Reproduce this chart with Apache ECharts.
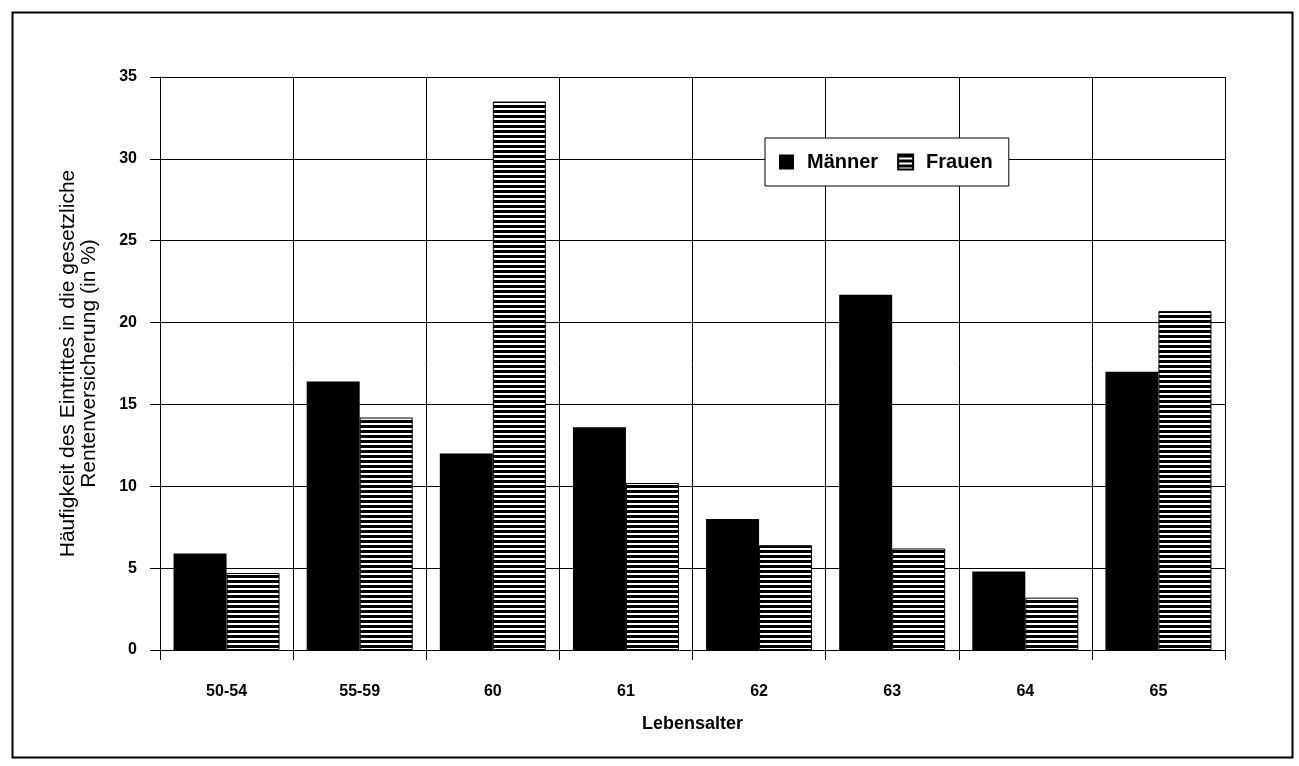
<!DOCTYPE html>
<html>
<head>
<meta charset="utf-8">
<script src="https://cdn.jsdelivr.net/npm/echarts@6/dist/echarts.min.js"></script>
<style>
html,body{margin:0;padding:0;background:#fff;}
#chart{width:1299px;height:766px;}
</style>
</head>
<body>
<div id="chart"></div>
<script>
const categories = ['50-54', '55-59', '60', '61', '62', '63', '64', '65'];
const maenner = [5.9, 16.4, 12.0, 13.6, 8.0, 21.7, 4.8, 17.0];
const frauen = [4.7, 14.2, 33.5, 10.2, 6.4, 6.2, 3.2, 20.7];
const seriesNames = ['Männer', 'Frauen'];
const yTitle = 'Häufigkeit des Eintrittes in die gesetzliche\nRentenversicherung (in %)';
const xTitle = 'Lebensalter';

const pc = document.createElement('canvas');
pc.width = 4; pc.height = 5;
const ctx = pc.getContext('2d');
ctx.fillStyle = '#fff'; ctx.fillRect(0, 0, 4, 5);
ctx.fillStyle = '#000'; ctx.fillRect(0, 0, 4, 3);

const font = '"Liberation Sans", Arial, sans-serif';
const chart = echarts.init(document.getElementById('chart'), null, {renderer: 'canvas'});
chart.setOption({
  backgroundColor: '#fff',
  animation: false,
  graphic: [{
    type: 'rect', left: 10, top: 10,
    shape: {width: 1280, height: 745},
    style: {fill: 'none', stroke: '#000', lineWidth: 2},
    z: -1
  }],
  grid: {left: 160, right: 74, top: 77, bottom: 116, containLabel: false},
  legend: {
    data: seriesNames,
    left: 765, top: 138,
    orient: 'horizontal',
    icon: 'rect',
    backgroundColor: '#fff',
    borderColor: '#000', borderWidth: 1,
    padding: [14, 16, 14, 14],
    itemWidth: 15, itemHeight: 15, itemGap: 19,
    textStyle: {fontFamily: font, fontSize: 20, fontWeight: 'bold', color: '#000', padding: [0, 0, 0, 8]}
  },
  xAxis: {
    type: 'category', data: categories,
    axisLine: {show: true, lineStyle: {color: '#000', width: 1}},
    axisTick: {show: true, length: 10, lineStyle: {color: '#000'}},
    axisLabel: {margin: 34, fontFamily: font, fontSize: 16, fontWeight: 'bold', color: '#000'},
    splitLine: {show: true, lineStyle: {color: '#000', width: 1}},
    name: xTitle, nameLocation: 'middle', nameGap: 65,
    nameTextStyle: {fontFamily: font, fontSize: 18, fontWeight: 'bold', color: '#000'}
  },
  yAxis: {
    type: 'value', min: 0, max: 35, interval: 5,
    axisLine: {show: true, lineStyle: {color: '#000', width: 1}},
    axisTick: {show: true, length: 10, lineStyle: {color: '#000'}},
    axisLabel: {margin: 23, fontFamily: font, fontSize: 16, fontWeight: 'bold', color: '#000'},
    splitLine: {show: true, lineStyle: {color: '#000', width: 1}},
    name: yTitle, nameLocation: 'middle', nameGap: 60,
    nameTextStyle: {fontFamily: font, fontSize: 21, color: '#000', lineHeight: 21}
  },
  series: [
    {
      name: seriesNames[0], type: 'bar', data: maenner,
      barWidth: 53, barGap: '0%',
      itemStyle: {color: '#000', borderColor: '#000', borderWidth: 0}
    },
    {
      name: seriesNames[1], type: 'bar', data: frauen,
      barWidth: 53, barGap: '0%',
      itemStyle: {color: {image: pc, repeat: 'repeat'}, borderColor: '#000', borderWidth: 1}
    }
  ]
});
</script>
</body>
</html>
